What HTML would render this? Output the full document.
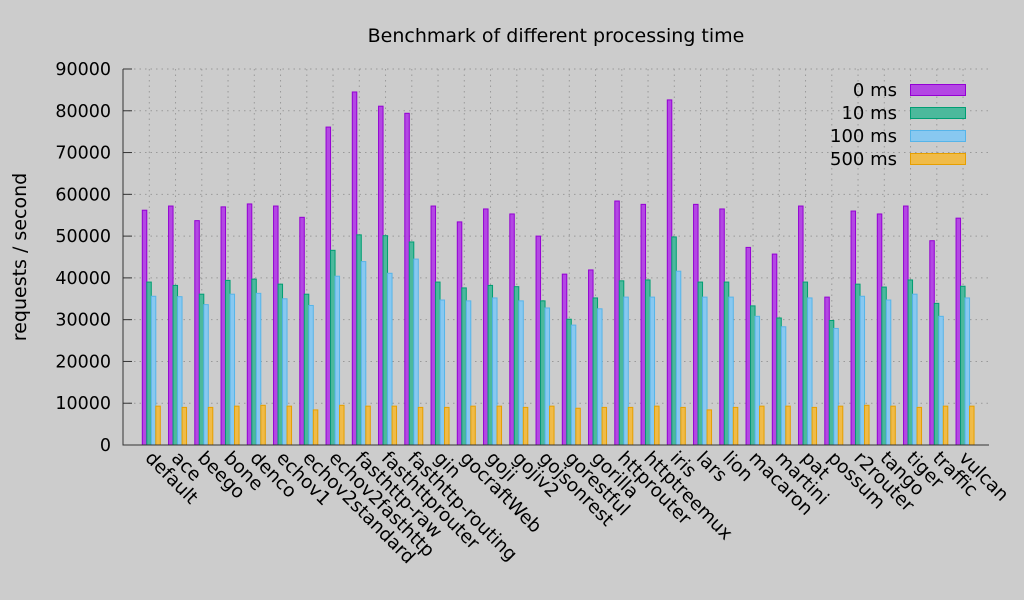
<!DOCTYPE html>
<html><head><meta charset="utf-8"><style>
body{margin:0;background:#cccccc;}
svg{display:block;font-family:"DejaVu Sans","Liberation Sans",sans-serif;}
</style></head><body>
<svg id="chart" width="1024" height="600" viewBox="0 0 1024 600">
<rect width="1024" height="600" fill="#cccccc"/>
<text x="556" y="42" text-anchor="middle" font-size="19" fill="#000">Benchmark of different processing time</text>
<text transform="translate(26,257) rotate(-90)" text-anchor="middle" font-size="19" fill="#000">requests / second</text>
<g id="grid"></g><g id="bars"></g><g id="axes"></g><g id="legend"></g>
</svg>
<script>
const categories=["default","ace","beego","bone","denco","echov1","echov2standard","echov2fasthttp","fasthttp-raw","fasthttprouter","fasthttp-routing","gin","gocraftWeb","goji","gojiv2","gojsonrest","gorestful","gorilla","httprouter","httptreemux","iris","lars","lion","macaron","martini","pat","possum","r2router","tango","tiger","traffic","vulcan"];
const series0=[56200,57200,53700,57000,57700,57200,54500,76100,84500,81100,79400,57200,53400,56500,55300,50000,40900,41900,58400,57600,82600,57600,56500,47300,45700,57200,35400,56000,55300,57200,48900,54300];
const series10=[39000,38200,36100,39400,39700,38500,36100,46600,50300,50100,48600,39000,37600,38200,37900,34500,30100,35200,39300,39500,49800,39000,39000,33300,30400,39000,29800,38500,37800,39500,33900,38000];
const series100=[35600,35500,33600,36100,36300,35000,33400,40400,43900,41100,44500,34700,34500,35200,34500,32800,28700,32600,35400,35400,41600,35400,35400,30800,28300,35200,27900,35600,34700,36100,30800,35200];
const series500=[9300,9000,9000,9300,9500,9300,8400,9500,9300,9300,9000,9000,9300,9300,9000,9300,8800,9000,9000,9300,9000,8400,9000,9300,9300,9000,9300,9500,9300,9000,9300,9300];
const seriesNames=["0 ms","10 ms","100 ms","500 ms"];
const yTicks=[0,10000,20000,30000,40000,50000,60000,70000,80000,90000];

const NS="http://www.w3.org/2000/svg";
const L=123,R=989,T=69,B=445,YMAX=90000;
const y=v=>B-v*(B-T)/YMAX;
const x=i=>149.3+i*26.25;
const fills=["#b347e3","#4cb99c","#88c8f0","#f0bb48"];
const strokes=["#9400d3","#009e73","#56b4e9","#e69f00"];
const all=[series0,series10,series100,series500];
function mk(tag,attrs,parent){const e=document.createElementNS(NS,tag);for(const k in attrs)e.setAttribute(k,attrs[k]);parent.appendChild(e);return e;}
const grid=document.getElementById('grid'),bars=document.getElementById('bars'),axes=document.getElementById('axes'),legend=document.getElementById('legend');
yTicks.forEach(t=>{
 if(t>0){const g=mk('line',{x1:L,x2:R,y1:y(t),y2:y(t),stroke:'#999',"stroke-width":1,"stroke-dasharray":"1.5,4"},grid);
 
 }
 const tk=mk('line',{x1:L,x2:L+9,y1:y(t),y2:y(t),stroke:'#333',"stroke-width":1},axes);
 
 
 const tx=mk('text',{x:111,y:y(t)+6,"text-anchor":"end","font-size":17.5,fill:'#000'},axes);
 tx.textContent=t;
 
 
});
categories.forEach((c,i)=>{
 const g=mk('line',{x1:x(i),x2:x(i),y1:T,y2:B,stroke:'#999',"stroke-width":1,"stroke-dasharray":"1.5,4"},grid);
 
 
 all.forEach((s,k)=>{
  const x0=x(i)-7+k*4.5;
  const r=mk('rect',{x:x0,y:y(s[i]),width:4.5,height:B-y(s[i]),fill:fills[k],stroke:strokes[k],"stroke-width":1},bars);
  
  
 });
 const tx=mk('text',{transform:`translate(${x(i)-5},${B+14}) rotate(45)`,"font-size":18.5,fill:'#000'},axes);
 tx.textContent=c;
 
 
});
const ax=mk('path',{d:`M${L},${T}V${B}H${R}`,fill:'none',stroke:'#333',"stroke-width":1},axes);


seriesNames.forEach((n,k)=>{
 const yy=90+k*23;
 const t=mk('text',{x:897,y:yy+6,"text-anchor":"end","font-size":18,fill:'#000'},legend);
 t.textContent=n;
 
 
 const r=mk('rect',{x:910.5,y:yy-5.5,width:55,height:11,fill:fills[k],stroke:strokes[k],"stroke-width":1},legend);
 
 
});
</script>
</body></html>
